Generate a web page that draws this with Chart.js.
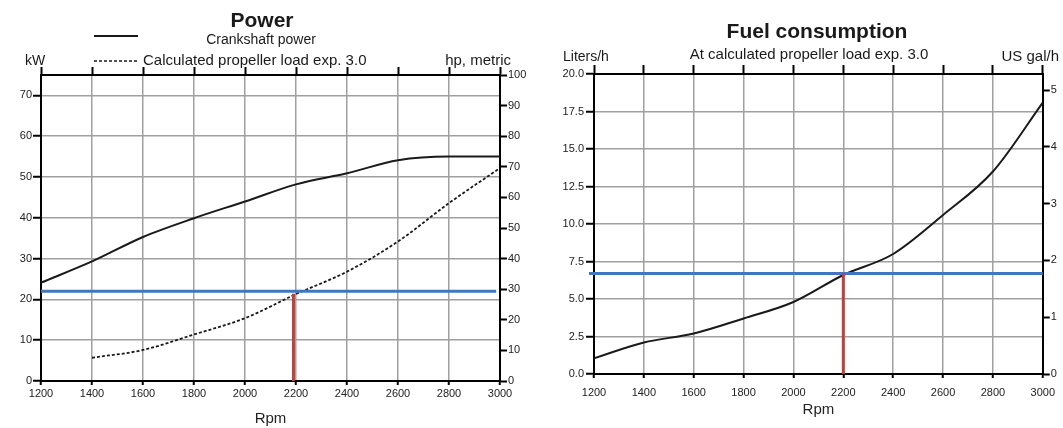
<!DOCTYPE html>
<html>
<head>
<meta charset="utf-8">
<script src="https://cdn.jsdelivr.net/npm/chart.js@4.4.1/dist/chart.umd.min.js"></script>
<style>
  body { margin: 0; background: #fff; width: 1063px; height: 428px; overflow: hidden; position: relative; }
  canvas { position: absolute; top: 0; }
  #power { left: 0; }
  #fuel { left: 540px; }
</style>
</head>
<body>
<canvas id="power" width="540" height="428"></canvas>
<canvas id="fuel" width="523" height="428"></canvas>
<script>
// values
const rpm = [1200, 1400, 1600, 1800, 2000, 2200, 2400, 2600, 2800, 3000];
const crankshaftKw = [24.1, 29.3, 35.3, 39.9, 44.0, 48.2, 50.9, 54.1, 55.0, 55.0];
const propRpm = [1400, 1600, 1800, 2000, 2200, 2400, 2600, 2800, 3000];
const propKw = [5.7, 7.6, 11.4, 15.4, 21.3, 26.8, 34.2, 43.6, 52.2];
const fuelLh = [1.05, 2.1, 2.7, 3.7, 4.8, 6.6, 8.0, 10.6, 13.5, 18.1];

// operating point markers
const powerRefKw = 22;
const powerRefRpm = 2190;
const powerRefTop = 21.4;
const fuelRefLh = 6.7;
const fuelRefRpm = 2200;

const FONT = "'Liberation Sans', Arial, sans-serif";
const gridColor = "#a0a0a0";
const blue = "#4277bd";
const red = "#c0403c";
const tickFont = { family: FONT, size: 11 };

const pts = (xs, ys) => xs.map((x, i) => ({ x: x, y: ys[i] }));

function overlay(draw) {
  return {
    id: "overlay",
    afterDraw(chart) {
      const c = chart.ctx;
      c.save();
      c.fillStyle = "#1a1a1a";
      c.strokeStyle = "#1a1a1a";
      c.textBaseline = "middle";
      draw(c);
      c.restore();
    }
  };
}

function xScales(bottomH, topH, labelPad, titlePad, topTick) {
  return {
    x: {
      type: "linear", position: "bottom", min: 1200, max: 3000,
      ticks: { stepSize: 200, callback: v => v, font: tickFont, color: "#222", padding: labelPad, maxRotation: 0, autoSkip: false },
      grid: { color: gridColor, lineWidth: 1.5, tickColor: "#000", tickLength: 4, tickWidth: 2 },
      border: { color: "#000", width: 2 },
      title: { display: true, text: "Rpm", font: { family: FONT, size: 15 }, color: "#222", padding: { top: 0, bottom: titlePad } },
      afterFit: s => { s.height = bottomH; }
    },
    x2: {
      type: "linear", position: "top", min: 1200, max: 3000,
      ticks: { stepSize: 200, display: false },
      grid: { drawOnChartArea: false, tickColor: "#000", tickLength: topTick, tickWidth: 2 },
      border: { color: "#000", width: 2 },
      afterFit: s => { s.height = topH; }
    }
  };
}

const baseOpts = {
  responsive: false,
  animation: false,
  plugins: { legend: { display: false }, tooltip: { enabled: false } },
  elements: { point: { radius: 0 } }
};

// ---- Power chart ----
const powerScales = xScales(47, 9, 2, 0, 8);
powerScales.y = {
  position: "left", min: 0, max: 75,
  ticks: { stepSize: 10, font: tickFont, color: "#222", padding: 1 },
  afterBuildTicks: s => { s.ticks = s.ticks.filter(t => t.value <= 70); },
  grid: { color: gridColor, lineWidth: 1.5, tickColor: "#000", tickLength: 8, tickWidth: 2 },
  border: { color: "#000", width: 2 },
  afterFit: s => { s.width = 41; }
};
powerScales.y2 = {
  position: "right", min: 0, max: 100,
  ticks: { stepSize: 10, font: tickFont, color: "#222", padding: 1 },
  grid: { drawOnChartArea: false, tickColor: "#000", tickLength: 7, tickWidth: 2 },
  border: { color: "#000", width: 2 },
  afterFit: s => { s.width = 40; }
};

new Chart(document.getElementById("power"), {
  type: "line",
  data: {
    datasets: [
      { data: [{ x: powerRefRpm, y: 0 }, { x: powerRefRpm, y: powerRefTop }], borderColor: red, borderWidth: 3, yAxisID: "y" },
      { data: [{ x: 1200, y: powerRefKw }, { x: 2985, y: powerRefKw }], borderColor: blue, borderWidth: 3, yAxisID: "y" },
      { data: pts(rpm, crankshaftKw), borderColor: "#1a1a1a", borderWidth: 2, cubicInterpolationMode: "monotone", yAxisID: "y" },
      { data: pts(propRpm, propKw), borderColor: "#1a1a1a", borderWidth: 1.8, borderDash: [3, 2], cubicInterpolationMode: "monotone", yAxisID: "y" }
    ]
  },
  options: Object.assign({}, baseOpts, { layout: { padding: { top: 66 } }, scales: powerScales }),
  plugins: [overlay(c => {
    c.textAlign = "center";
    c.font = "bold 21px " + FONT;
    c.fillText("Power", 262, 21);
    c.font = "14px " + FONT;
    c.fillText("Crankshaft power", 261, 40);
    c.font = "15px " + FONT;
    c.textAlign = "left";
    c.fillText("Calculated propeller load exp. 3.0", 143, 61);
    c.font = "14px " + FONT;
    c.fillText("kW", 25, 61);
    c.font = "15px " + FONT;
    c.textAlign = "right";
    c.fillText("hp, metric", 511, 61);
    c.lineWidth = 2;
    c.beginPath(); c.moveTo(94, 36); c.lineTo(138, 36); c.stroke();
    c.lineWidth = 1.5;
    c.setLineDash([3, 2]);
    c.beginPath(); c.moveTo(94, 61); c.lineTo(138, 61); c.stroke();
  })]
});

// ---- Fuel chart ----
const fuelScales = xScales(54, 10, 8, 9, 9);
fuelScales.y = {
  position: "left", min: 0, max: 20,
  ticks: { stepSize: 2.5, font: tickFont, color: "#222", padding: 2, callback: v => v.toFixed(1) },
  grid: { color: gridColor, lineWidth: 1.5, tickColor: "#000", tickLength: 8, tickWidth: 2 },
  border: { color: "#000", width: 2 },
  afterFit: s => { s.width = 54; }
};
fuelScales.y2 = {
  position: "right", min: 0, max: 20 / 3.785,
  ticks: { stepSize: 1, font: tickFont, color: "#222", padding: 1 },
  afterBuildTicks: s => { s.ticks = s.ticks.filter(t => t.value <= 5); },
  grid: { drawOnChartArea: false, tickColor: "#000", tickLength: 7, tickWidth: 2 },
  border: { color: "#000", width: 2 },
  afterFit: s => { s.width = 18; }
};

new Chart(document.getElementById("fuel"), {
  type: "line",
  data: {
    datasets: [
      { data: [{ x: fuelRefRpm, y: 0 }, { x: fuelRefRpm, y: fuelRefLh }], borderColor: red, borderWidth: 3, yAxisID: "y" },
      { data: [{ x: 1180, y: fuelRefLh }, { x: 3000, y: fuelRefLh }], borderColor: blue, borderWidth: 3, clip: false, yAxisID: "y" },
      { data: pts(rpm, fuelLh), borderColor: "#1a1a1a", borderWidth: 2, cubicInterpolationMode: "monotone", yAxisID: "y" }
    ]
  },
  options: Object.assign({}, baseOpts, { layout: { padding: { top: 64 } }, scales: fuelScales }),
  plugins: [overlay(c => {
    c.textAlign = "center";
    c.font = "bold 21px " + FONT;
    c.fillText("Fuel consumption", 277, 32);
    c.font = "15px " + FONT;
    c.fillText("At calculated propeller load exp. 3.0", 269, 55);
    c.font = "14px " + FONT;
    c.textAlign = "left";
    c.fillText("Liters/h", 23, 57);
    c.font = "15px " + FONT;
    c.textAlign = "right";
    c.fillText("US gal/h", 519, 57);
  })]
});
</script>
</body>
</html>
